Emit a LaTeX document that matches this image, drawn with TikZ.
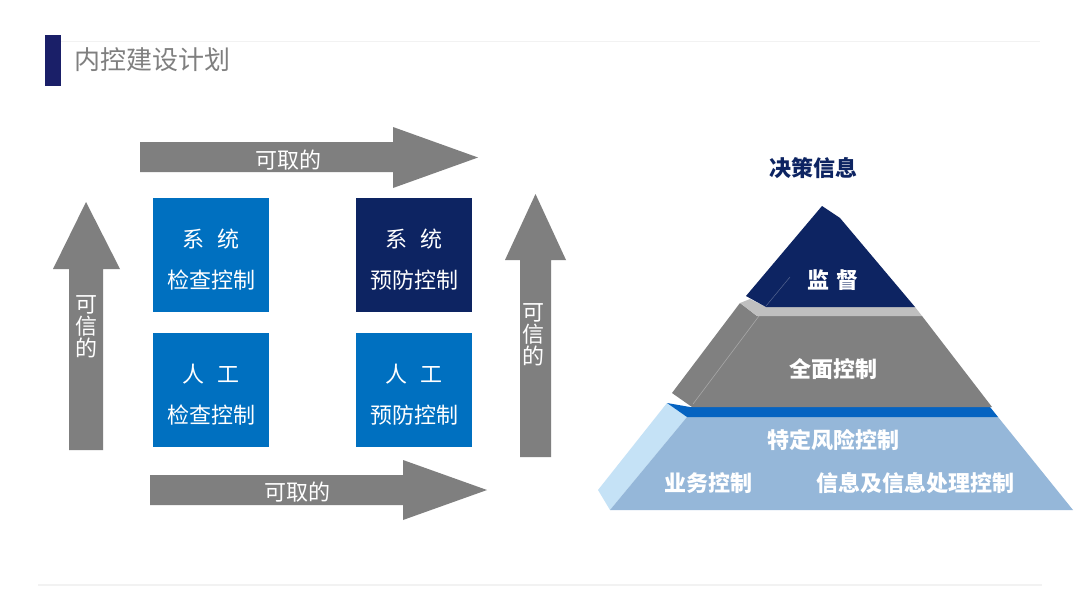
\documentclass[tikz,border=0pt]{standalone}
\usepackage{fontspec}
\newfontfamily\cjk{Noto Sans CJK SC}
\definecolor{navy}{RGB}{13,36,98}
\definecolor{titlebar}{RGB}{26,31,104}
\definecolor{boxblue}{RGB}{0,112,192}
\definecolor{arrowgray}{RGB}{127,127,127}
\definecolor{pgray}{RGB}{128,128,128}
\definecolor{plgray}{RGB}{191,191,191}
\definecolor{pblue}{RGB}{5,99,193}
\definecolor{plblue}{RGB}{149,183,217}
\definecolor{pface}{RGB}{197,226,246}
\tikzset{
  arr/.style={fill=arrowgray, draw=none},
  ctrlbox/.style={draw=none, minimum width=116pt, minimum height=114pt, inner sep=0pt},
  boxtxt/.style={text=white, align=center, font=\cjk\fontsize{22}{41}\selectfont},
  arrtxt/.style={text=white, font=\cjk\fontsize{22}{24}\selectfont},
  vtxt/.style={text=white, align=center, font=\cjk\fontsize{22}{22}\selectfont},
  ptxt/.style={text=white, font=\cjk\bfseries\fontsize{22}{24}\selectfont},
}
\begin{document}
\begin{tikzpicture}[x=1pt,y=-1pt]
\useasboundingbox (0,0) rectangle (1080,608);
\fill[white] (0,0) rectangle (1080,608);
% faint frame lines
\draw[black!5, line width=1pt] (60,41) -- (1040,41);
\draw[black!5, line width=1.5pt] (38,585) -- (1042,585);
% title
\fill[titlebar] (45,35) rectangle (60.5,86);
\node[anchor=west, text=arrowgray, font=\cjk\fontsize{26}{28}\selectfont, inner sep=0pt] (title) at (74,60) {内控建设计划};

% horizontal arrows
\path[arr] (140,142) -- (393,142) -- (393,127) -- (478,157.5) -- (393,188) -- (393,172) -- (140,172) -- cycle;
\node[arrtxt] (topt) at (288,160) {可取的};
\path[arr] (150,475) -- (403,475) -- (403,460) -- (487,490) -- (403,520) -- (403,505) -- (150,505) -- cycle;
\node[arrtxt] (bott) at (297,492) {可取的};

% vertical arrows
\path[arr] (69,450) -- (69,269) -- (53,269) -- (86,202) -- (120,269) -- (103,269) -- (103,450) -- cycle;
\node[vtxt] (lt) at (86,327) {可\\信\\的};
\path[arr] (520,457) -- (520,260) -- (505,260) -- (535.5,194) -- (566,260) -- (551,260) -- (551,457) -- cycle;
\node[vtxt] (rt) at (533,335) {可\\信\\的};

% boxes
\node[ctrlbox, fill=boxblue] (b1) at (211,255) {};
\node[ctrlbox, fill=navy] (b2) at (414,255) {};
\node[ctrlbox, fill=boxblue] (b3) at (211,390) {};
\node[ctrlbox, fill=boxblue] (b4) at (414,390) {};
\node[boxtxt] (t1) at ([yshift=-5pt]b1.center) {系\hspace{0.6em}统\\检查控制};
\node[boxtxt] (t2) at ([yshift=-5pt]b2.center) {系\hspace{0.6em}统\\预防控制};
\node[boxtxt] (t3) at ([yshift=-5pt]b3.center) {人\hspace{0.6em}工\\检查控制};
\node[boxtxt] (t4) at ([yshift=-5pt]b4.center) {人\hspace{0.6em}工\\预防控制};

% pyramid
\fill[pface] (667,403) -- (687,417) -- (610,510) -- (598,490) -- cycle;
\fill[plblue] (687,417) -- (998,417) -- (1073,510) -- (610,510) -- cycle;
\fill[pblue] (667,403) -- (690,407) -- (990,407) -- (998,417) -- (687,417) -- cycle;
\fill[pgray] (740,303) -- (757,316) -- (922,316) -- (992,407) -- (692,407) -- (672,393) -- cycle;
\draw[black!35, line width=0.6pt] (759,316) -- (693,404);
\fill[plgray] (740,303) -- (750,299) -- (766,307) -- (915,307) -- (922,316) -- (757,316) -- cycle;
\fill[navy] (822,206) -- (840,218) -- (915,307) -- (766,307) -- (746,296) -- cycle;
\draw[navy!70!white, line width=0.5pt] (790,277) -- (766,306);

\node[text=navy, font=\cjk\bfseries\fontsize{22}{24}\selectfont] (top) at (813,168) {决策信息};
\node[ptxt] (p1) at (833,280) {监\hspace{0.35em}督};
\node[ptxt] (p2) at (833,369) {全面控制};
\node[ptxt] (p3) at (833,440) {特定风险控制};
\node[ptxt] (p4) at (708,483) {业务控制};
\node[ptxt] (p5) at (915,483) {信息及信息处理控制};
\end{tikzpicture}
\end{document}
